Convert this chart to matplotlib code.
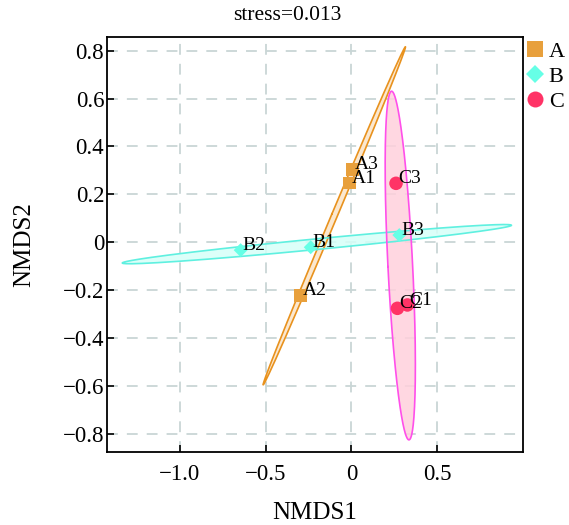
import numpy as np
import matplotlib
matplotlib.use("Agg")
import matplotlib.pyplot as plt
from matplotlib.lines import Line2D

plt.rcParams['font.family'] = ['Liberation Serif', 'DejaVu Serif']

# NMDS site scores
groups = ["A", "B", "C"]
sample_names = {
    "A": ["A1", "A2", "A3"],
    "B": ["B1", "B2", "B3"],
    "C": ["C1", "C2", "C3"],
}
nmds1 = {
    "A": [-0.011, -0.295, 0.008],
    "B": [-0.237, -0.646, 0.280],
    "C": [0.327, 0.269, 0.261],
}
nmds2 = {
    "A": [0.247, -0.221, 0.305],
    "B": [-0.021, -0.033, 0.030],
    "C": [-0.262, -0.276, 0.246],
}
stress = 0.013

markers = {"A": "s", "B": "D", "C": "o"}
marker_sizes = {"A": 85, "B": 50, "C": 95}
point_colors = {"A": "#E8A03C", "B": "#66FFE6", "C": "#FF3366"}
edge_colors = {"A": "#E8921E", "B": "#5FF0E0", "C": "#FF4FEA"}
fill_colors = {"A": "#FBE4C8", "B": "#D6FFF8", "C": "#FFD0DC"}

# 95% normal-theory confidence ellipse radius (chi-square, 2 df)
radius = np.sqrt(5.991)

fig = plt.figure(figsize=(5.69, 5.25), dpi=100)
ax = fig.add_axes([107 / 569, 1 - 452 / 525, (523 - 107) / 569, (452 - 37) / 525])

t = np.linspace(0, 2 * np.pi, 400)
for g in groups:
    x = np.array(nmds1[g])
    y = np.array(nmds2[g])
    center = np.array([x.mean(), y.mean()])
    cov = np.cov(np.vstack([x, y]))
    vals, vecs = np.linalg.eigh(cov)
    vals = np.clip(vals, 0, None)
    circle = np.vstack([np.cos(t), np.sin(t)])
    pts = vecs @ (np.sqrt(vals)[:, None] * circle) * radius + center[:, None]
    ax.fill(pts[0], pts[1], facecolor=fill_colors[g], edgecolor="none", zorder=2, alpha=0.85)
    ax.plot(pts[0], pts[1], color=edge_colors[g], lw=1.2, zorder=3)

for g in groups:
    ax.scatter(nmds1[g], nmds2[g], marker=markers[g], s=marker_sizes[g],
               color=point_colors[g], edgecolors="none", zorder=4)
    for name, xv, yv in zip(sample_names[g], nmds1[g], nmds2[g]):
        ax.annotate(name, (xv, yv), xytext=(1.5, 0), textcoords="offset points",
                    ha="left", va="baseline", fontsize=14, zorder=5)

ax.set_xlim(-1.426, 1.002)
ax.set_ylim(-0.876, 0.857)
ax.set_xticks([-1.0, -0.5, 0.0, 0.5])
ax.set_yticks([-0.8, -0.6, -0.4, -0.2, 0.0, 0.2, 0.4, 0.6, 0.8])
ax.set_xticklabels(["\u22121.0", "\u22120.5", "0", "0.5"])
ax.set_yticklabels(["\u22120.8", "\u22120.6", "\u22120.4", "\u22120.2", "0",
                    "0.2", "0.4", "0.6", "0.8"])
ax.tick_params(direction="in", length=5, width=1.2, labelsize=16.5)
ax.tick_params(axis="x", pad=9)
ax.tick_params(axis="y", pad=2)
ax.grid(True, color="#C9D6D6", linestyle=(0, (6, 5)), linewidth=1.3, zorder=0)
ax.set_axisbelow(True)
for sp in ax.spines.values():
    sp.set_linewidth(1.3)

ax.set_xlabel("NMDS1", fontsize=18, labelpad=12)
ax.set_ylabel("NMDS2", fontsize=18, labelpad=20)
fig.text(287 / 569, 1 - 15 / 525, f"stress={stress}", ha="center", va="center", fontsize=15.5)

handles = [Line2D([], [], marker=markers[g], linestyle="none", color=point_colors[g],
                  markersize=11.5 if g != "B" else 9, markeredgewidth=0) for g in groups]
fig.legend(handles, groups, loc="upper left", bbox_to_anchor=(522 / 569, 1 - 37 / 525),
           frameon=False, fontsize=16, handlelength=0.8, handletextpad=0.2,
           labelspacing=0.2, borderaxespad=0, borderpad=0.2)

fig.savefig("out.png", dpi=100)
